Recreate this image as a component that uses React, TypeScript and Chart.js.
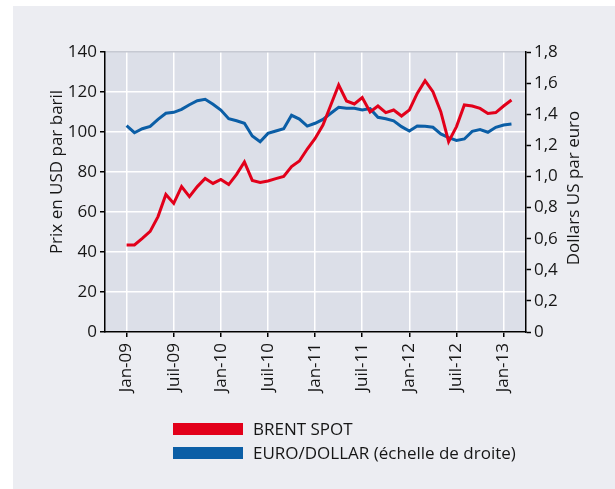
import React, { useEffect, useRef } from "react";
import { Chart, registerables } from "chart.js";
Chart.register(...registerables);

// Monthly values, Jan-09 .. Feb-13
const brentSpot = [
  43.5, 43.5, 46.8, 50.3, 57.7, 68.8, 64.3, 72.7, 67.7, 72.7, 76.8, 74.3,
  76.3, 73.7, 78.8, 85.0, 75.8, 74.8, 75.5, 76.7, 77.8, 82.7, 85.5, 91.5,
  96.8, 103.5, 113.5, 123.5, 115.5, 114.0, 117.2, 110.0, 113.0, 109.7, 111.0, 108.0,
  111.0, 119.3, 125.7, 120.2, 110.2, 95.2, 102.7, 113.5, 113.0, 111.8, 109.3, 109.7,
  113.0, 116.0,
];
const euroDollar = [
  1.326, 1.281, 1.307, 1.322, 1.367, 1.406, 1.412, 1.431, 1.461, 1.487, 1.496, 1.464,
  1.427, 1.371, 1.358, 1.342, 1.26, 1.223, 1.277, 1.292, 1.307, 1.393, 1.369, 1.324,
  1.342, 1.367, 1.406, 1.444, 1.438, 1.438, 1.427, 1.436, 1.38, 1.371, 1.358, 1.32,
  1.292, 1.324, 1.322, 1.316, 1.273, 1.249, 1.232, 1.241, 1.29, 1.301, 1.284, 1.316,
  1.331, 1.337,
];
const tickMonths = [0, 6, 12, 18, 24, 30, 36, 42, 48];
const tickLabels = ["Jan-09", "Juil-09", "Jan-10", "Juil-10", "Jan-11", "Juil-11", "Jan-12", "Juil-12", "Jan-13"];
const seriesLabels = ["BRENT SPOT", "EURO/DOLLAR (échelle de droite)"];
const axisTitles = ["Prix en USD par baril", "Dollars US par euro"];

const RED = "#e2001a";
const BLUE = "#0b5ea6";
const TEXT = "#161616";
const FAMILY = "'Open Sans', sans-serif";
const FONT = { family: FAMILY, size: 17 };

export default function App() {
  const ref = useRef<HTMLCanvasElement>(null);
  useEffect(() => {
    const canvas = ref.current!;
    const plotBg = {
      id: "plotBg",
      beforeDraw(chart: any) {
        const { ctx, chartArea: a } = chart;
        ctx.save();
        ctx.fillStyle = "#dcdfe8";
        ctx.fillRect(a.left, a.top, a.right - a.left, a.bottom - a.top);
        ctx.restore();
      },
    };
    const titles = {
      id: "titles",
      afterDraw(chart: any) {
        const { ctx } = chart;
        const draw = (t: string, x: number, y: number) => {
          ctx.save();
          ctx.translate(x, y);
          ctx.rotate(-Math.PI / 2);
          ctx.font = `17px ${FAMILY}`;
          ctx.fillStyle = TEXT;
          ctx.textAlign = "center";
          ctx.textBaseline = "middle";
          ctx.fillText(t, 0, 0);
          ctx.restore();
        };
        draw(axisTitles[0], 57, 172);
        draw(axisTitles[1], 574, 188);
      },
    };
    const chart = new Chart(canvas, {
      type: "line",
      data: {
        datasets: [
          {
            label: seriesLabels[0],
            data: brentSpot.map((v, i) => ({ x: i, y: v })),
            borderColor: RED,
            backgroundColor: RED,
            borderWidth: 3,
            pointRadius: 0,
            tension: 0,
            yAxisID: "y",
          },
          {
            label: seriesLabels[1],
            data: euroDollar.map((v, i) => ({ x: i, y: v })),
            borderColor: BLUE,
            backgroundColor: BLUE,
            borderWidth: 3,
            pointRadius: 0,
            tension: 0,
            yAxisID: "y1",
          },
        ],
      },
      options: {
        animation: false,
        responsive: false,
        maintainAspectRatio: false,
        layout: { padding: { left: 48, right: 20, top: 52, bottom: 90 } },
        plugins: { legend: { display: false }, tooltip: { enabled: false } },
        scales: {
          x: {
            type: "linear",
            min: -2.75,
            max: 50.85,
            afterBuildTicks: (s: any) => {
              s.ticks = tickMonths.map((v) => ({ value: v }));
            },
            afterFit: (s: any) => {
              s.height = 67;
            },
            ticks: {
              autoSkip: false,
              maxRotation: 90,
              minRotation: 90,
              padding: 6,
              color: TEXT,
              font: FONT,
              callback: (v: any) => {
                const k = tickMonths.indexOf(Number(v));
                return k >= 0 ? tickLabels[k] : "";
              },
            },
            grid: { color: "#ffffff", lineWidth: 1.5, tickColor: "#000", tickLength: 5, tickWidth: 1.5 },
            border: { color: "#000", width: 1.5 },
          },
          y: {
            position: "left",
            min: 0,
            max: 140,
            afterFit: (s: any) => {
              s.width = 57;
            },
            ticks: { stepSize: 20, padding: 3, color: TEXT, font: FONT },
            grid: {
              color: (c: any) => (c.tick && c.tick.value === 140 ? "#c6c9d2" : "#ffffff"),
              lineWidth: 1.5,
              tickColor: "#000",
              tickLength: 5,
              tickWidth: 1.5,
            },
            border: { color: "#000", width: 1.5 },
          },
          y1: {
            position: "right",
            min: 0,
            max: 1.8,
            afterFit: (s: any) => {
              s.width = 69;
            },
            ticks: {
              stepSize: 0.2,
              padding: 3,
              color: TEXT,
              font: FONT,
              callback: (v: any) => (Number(v) === 0 ? "0" : Number(v).toFixed(1).replace(".", ",")),
            },
            grid: { drawOnChartArea: false, tickColor: "#000", tickLength: 5, tickWidth: 1.5 },
            border: { color: "#000", width: 1.5 },
          },
        },
      } as any,
      plugins: [plotBg, titles],
    });
    return () => chart.destroy();
  }, []);

  const legendText: React.CSSProperties = {
    position: "absolute",
    left: 253,
    fontFamily: FAMILY,
    fontSize: 17,
    lineHeight: "20px",
    color: TEXT,
    whiteSpace: "nowrap",
  };
  return (
    <div style={{ position: "fixed", left: 0, top: 0, width: 615, height: 489, background: "#ffffff", overflow: "hidden" }}>
      <div style={{ position: "absolute", left: 13, top: 6, width: 602, height: 483, background: "#ecedf2" }} />
      <canvas ref={ref} width={615} height={489} style={{ position: "absolute", left: 0, top: 0, width: 615, height: 489 }} />
      <div style={{ position: "absolute", left: 173, top: 423, width: 70, height: 12, background: RED }} />
      <div style={{ position: "absolute", left: 173, top: 447, width: 70, height: 12, background: BLUE }} />
      <div style={{ ...legendText, top: 419 }}>{seriesLabels[0]}</div>
      <div style={{ ...legendText, top: 443 }}>{seriesLabels[1]}</div>
    </div>
  );
}
